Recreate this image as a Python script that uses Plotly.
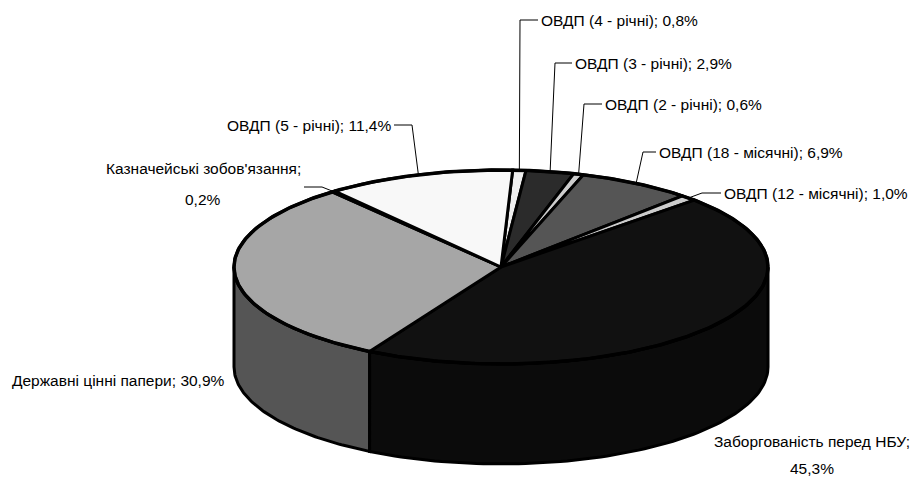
import numpy as np
import plotly.graph_objects as go

# ---------------- data ----------------
labels = ["ОВДП (4 - річні)", "ОВДП (3 - річні)", "ОВДП (2 - річні)",
          "ОВДП (18 - місячні)", "ОВДП (12 - місячні)",
          "Заборгованість перед НБУ", "Державні цінні папери",
          "Казначейські зобов'язання", "ОВДП (5 - річні)"]
values = [0.8, 2.9, 0.6, 6.9, 1.0, 45.3, 30.9, 0.2, 11.4]
value_text = ["0,8%", "2,9%", "0,6%", "6,9%", "1,0%", "45,3%", "30,9%", "0,2%", "11,4%"]

# ---------------- styles ----------------
top_colors = ["#efefef", "#2b2b2b", "#cdcdcd", "#555555", "#cccccc",
              "#111111", "#a6a6a6", "#ffffff", "#f8f8f8"]
side_colors = ["#bdbdbd", "#1a1a1a", "#9a9a9a", "#333333", "#999999",
               "#0b0b0b", "#555555", "#cccccc", "#c6c6c6"]

# geometry of the 3-D pie (pixel space)
CX, CY, RX, RY, DEPTH, START = 501.0, 267.0, 267.0, 97.0, 100.0, 87.5
LW = 3

# label layout: (text lines, text x, first line y, line gap, xanchor, leader elbows)
label_layout = [
    (["ОВДП (4 - річні); 0,8%"], 539, 20, 0, "left", [(520, 20)]),
    (["ОВДП (3 - річні); 2,9%"], 573, 63, 0, "left", [(555, 63)]),
    (["ОВДП (2 - річні); 0,6%"], 603, 104, 0, "left", [(584, 104)]),
    (["ОВДП (18 - місячні); 6,9%"], 657, 152, 0, "left", [(643, 152)]),
    (["ОВДП (12 - місячні); 1,0%"], 722, 193, 0, "left", [(702, 193)]),
    (["Заборгованість перед НБУ;", "45,3%"], 812, 441, 27, "center", None),
    (["Державні цінні папери; 30,9%"], 10, 380, 0, "left", None),
    (["Казначейські зобов'язання;", "0,2%"], 203, 168, 31, "center", [(322, 187), (304, 187)]),
    (["ОВДП (5 - річні); 11,4%"], 393, 125, 0, "right", [(412, 125)]),
]
FONT = "Liberation Sans, Arial, sans-serif"
FONT_SIZE = 15.5


def ell(t_deg, dy=0.0):
    t = np.radians(t_deg)
    return CX + RX * np.cos(t), CY - RY * np.sin(t) + dy


fig = go.Figure()

total = float(sum(values))
cum = np.concatenate([[0.0], np.cumsum(values)])
a_start = START - 360.0 * cum[:-1] / total   # clockwise
a_end = START - 360.0 * cum[1:] / total

# ---- side walls (front half: angles in [-180, 0] mod 360) ----
for i in range(len(values)):
    hi, lo = a_start[i], a_end[i]
    for k in (-1, 0, 1):
        f_hi = min(hi, 0 + 360 * k)
        f_lo = max(lo, -180 + 360 * k)
        if f_hi - f_lo <= 1e-6:
            continue
        ts = np.linspace(f_hi, f_lo, 80)
        xt, yt = ell(ts)
        xb, yb = ell(ts[::-1], DEPTH)
        xs = np.concatenate([xt, xb, [xt[0]]])
        ys = np.concatenate([yt, yb, [yt[0]]])
        fig.add_trace(go.Scatter(x=xs, y=ys, mode="lines", fill="toself",
                                 fillcolor=side_colors[i],
                                 line=dict(color="black", width=LW),
                                 hoverinfo="skip", showlegend=False))

# ---- top faces ----
for i in range(len(values)):
    n = max(4, int(abs(a_start[i] - a_end[i]) * 2))
    ts = np.linspace(a_start[i], a_end[i], n)
    xa, ya = ell(ts)
    xs = np.concatenate([[CX], xa, [CX]])
    ys = np.concatenate([[CY], ya, [CY]])
    fig.add_trace(go.Scatter(x=xs, y=ys, mode="lines", fill="toself",
                             fillcolor=top_colors[i],
                             line=dict(color="black", width=LW),
                             name=labels[i] + "; " + value_text[i],
                             hoverinfo="name", showlegend=False))

# outer rim of top face (slightly heavier)
ts = np.linspace(0, 360, 400)
xr, yr = ell(ts)
fig.add_trace(go.Scatter(x=xr, y=yr, mode="lines",
                         line=dict(color="black", width=LW + 0.5),
                         hoverinfo="skip", showlegend=False))

# ---- labels and leader lines ----
annotations = []
for i, (lines, tx, ty, gap, anchor, elbows) in enumerate(label_layout):
    for j, txt in enumerate(lines):
        annotations.append(dict(x=tx, y=ty + j * gap, xref="x", yref="y",
                                text=txt, showarrow=False, xanchor=anchor,
                                yanchor="middle",
                                font=dict(family=FONT, size=FONT_SIZE, color="#000000")))
    if elbows:
        mid = 0.5 * (a_start[i] + a_end[i])
        ax, ay = ell(mid)
        pts_x = [ax] + [p[0] for p in elbows]
        pts_y = [ay] + [p[1] for p in elbows]
        if anchor == "left":
            pts_x.append(tx - 1)
            pts_y.append(ty)
        elif anchor == "right":
            pts_x.append(tx + 1)
            pts_y.append(ty)
        fig.add_trace(go.Scatter(x=pts_x, y=pts_y, mode="lines",
                                 line=dict(color="black", width=1),
                                 hoverinfo="skip", showlegend=False))

fig.update_layout(
    width=919, height=482,
    margin=dict(l=0, r=0, t=0, b=0),
    paper_bgcolor="white", plot_bgcolor="white",
    xaxis=dict(range=[0, 919], visible=False, fixedrange=True),
    yaxis=dict(range=[482, 0], visible=False, fixedrange=True),
    annotations=annotations,
    showlegend=False,
)

fig.write_html("out.html")
